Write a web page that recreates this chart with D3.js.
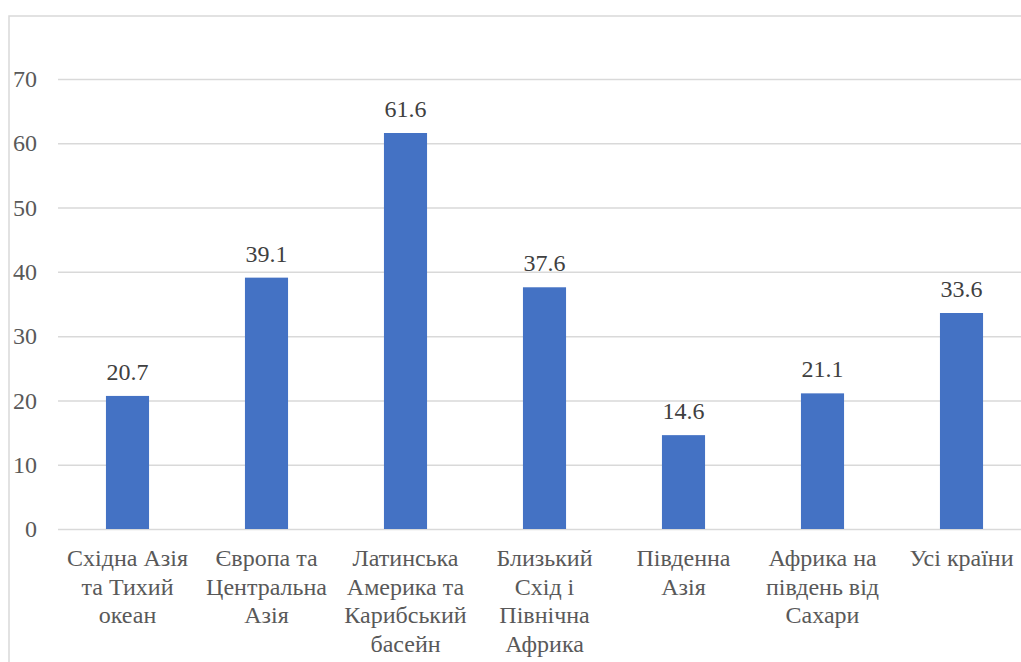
<!DOCTYPE html>
<html>
<head>
<meta charset="utf-8">
<script src="https://cdn.jsdelivr.net/npm/d3@7"></script>
</head>
<body style="margin:0">
<div id="chart"></div>
<script>
var categories = ["Східна Азія\nта Тихий\nокеан", "Європа та\nЦентральна\nАзія",
  "Латинська\nАмерика та\nКарибський\nбасейн", "Близький\nСхід і\nПівнічна\nАфрика",
  "Південна\nАзія", "Африка на\nпівдень від\nСахари", "Усі країни"];
var values = [20.7, 39.1, 61.6, 37.6, 14.6, 21.1, 33.6];
var yTicks = [0, 10, 20, 30, 40, 50, 60, 70];

var W = 1021, H = 662;
var M = { top: 79, left: 58, right: -10, bottom: 133 };
var FONT = "Liberation Serif";

var svg = d3.select("#chart").append("svg")
    .attr("width", W)
    .attr("height", H);

// рамка діаграми
svg.append("rect")
    .attr("x", 9).attr("y", 16)
    .attr("width", W + 20).attr("height", H + 20)
    .attr("fill", "none")
    .attr("stroke", "#d9d9d9")
    .attr("stroke-width", 1.5);

var x = d3.scaleBand()
    .domain(categories)
    .range([M.left, W - M.right])
    .paddingInner(0.69)
    .paddingOuter(0.345);

var y = d3.scaleLinear()
    .domain([0, 70])
    .range([H - M.bottom, M.top]);

// сітка
svg.append("g")
    .attr("transform", "translate(" + M.left + ",0)")
    .call(d3.axisRight(y).tickValues(yTicks).tickSize(W - M.right - M.left).tickFormat(""))
    .call(g => g.select(".domain").remove())
    .selectAll("line")
    .attr("stroke", "#d9d9d9")
    .attr("stroke-width", 1.5);

// вісь Y
var yAxis = svg.append("g")
    .attr("transform", "translate(37,0)")
    .call(d3.axisLeft(y).tickValues(yTicks).tickSize(0).tickPadding(0));
yAxis.select(".domain").remove();
yAxis.attr("font-family", FONT).attr("font-size", 24);
yAxis.selectAll("text").attr("fill", "#595959");

// стовпці
svg.append("g")
    .selectAll("rect")
    .data(values)
    .enter().append("rect")
    .attr("x", (d, i) => x(categories[i]))
    .attr("y", d => y(d))
    .attr("width", x.bandwidth())
    .attr("height", d => y(0) - y(d))
    .attr("fill", "#4472c4");

// підписи значень
svg.append("g")
    .selectAll("text")
    .data(values)
    .enter().append("text")
    .attr("x", (d, i) => x(categories[i]) + x.bandwidth() / 2)
    .attr("y", d => y(d) - 16)
    .attr("text-anchor", "middle")
    .attr("font-family", FONT)
    .attr("font-size", 24)
    .attr("fill", "#404040")
    .text(d => d.toFixed(1));

// підписи категорій
var xAxis = svg.append("g")
    .attr("transform", "translate(0," + y(0) + ")")
    .call(d3.axisBottom(x).tickSize(0).tickFormat(""));
xAxis.select(".domain").remove();
xAxis.attr("font-family", FONT).attr("font-size", 24);
xAxis.selectAll(".tick").each(function(d) {
  var t = d3.select(this).append("text")
      .attr("text-anchor", "middle")
      .attr("fill", "#595959");
  d.split("\n").forEach(function(line, i) {
    t.append("tspan").attr("x", 0).attr("y", 37 + i * 28.5).text(line);
  });
});
</script>
</body>
</html>
